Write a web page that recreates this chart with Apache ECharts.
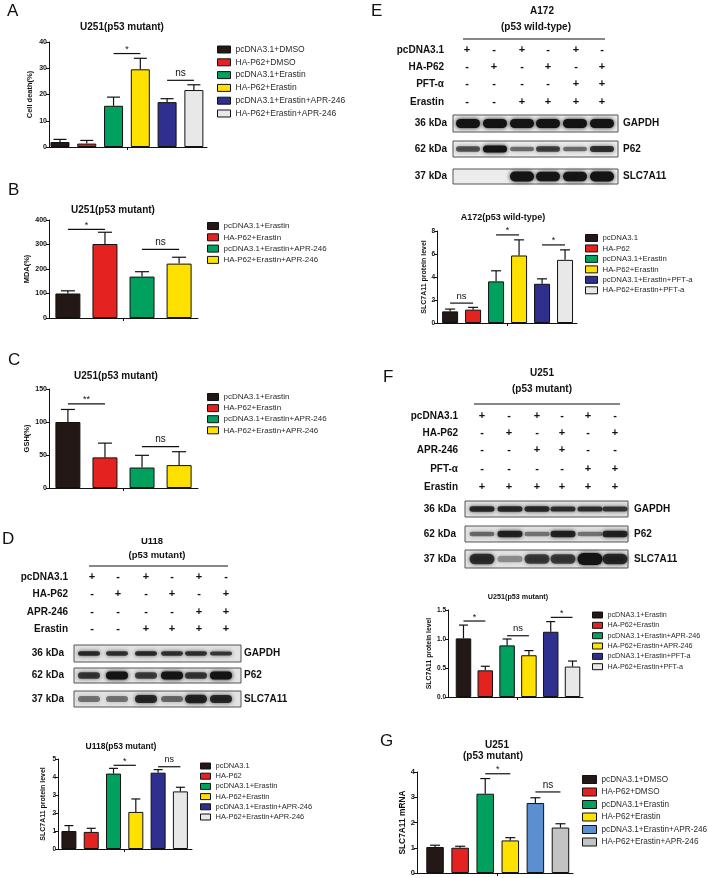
<!DOCTYPE html>
<html><head><meta charset="utf-8">
<script src="https://cdn.jsdelivr.net/npm/echarts@6/dist/echarts.min.js"></script>
<style>html,body{margin:0;padding:0;background:#fff}#c{width:708px;height:878px}</style>
</head><body><div id="c"></div>
<script>
// ---------------- DATA ----------------
const namesA = ['pcDNA3.1+DMSO','HA-P62+DMSO','pcDNA3.1+Erastin','HA-P62+Erastin','pcDNA3.1+Erastin+APR-246','HA-P62+Erastin+APR-246'];
const valuesA = [1.9, 1.3, 15.7, 29.6, 17.1, 21.7];
const errTopA = [2.9, 2.5, 19.0, 33.8, 18.4, 23.7];
const sigA = [[2, 3, 35.6, '*'], [4, 5, 25.4, 'ns']];
const ticksA = [0, 10, 20, 30, 40];

const namesB = ['pcDNA3.1+Erastin','HA-P62+Erastin','pcDNA3.1+Erastin+APR-246','HA-P62+Erastin+APR-246'];
const valuesB = [100, 302, 169, 222];
const errTopB = [111, 350, 189, 248];
const sigB = [[0, 1, 362, '*'], [2, 3, 280, 'ns']];
const ticksB = [0, 100, 200, 300, 400];

const namesC = ['pcDNA3.1+Erastin','HA-P62+Erastin','pcDNA3.1+Erastin+APR-246','HA-P62+Erastin+APR-246'];
const valuesC = [100, 46.4, 31, 34.7];
const errTopC = [119, 68, 49.5, 55];
const sigC = [[0, 1, 127.5, '**'], [2, 3, 62.8, 'ns']];
const ticksC = [0, 50, 100, 150];

const namesD = ['pcDNA3.1','HA-P62','pcDNA3.1+Erastin','HA-P62+Erastin','pcDNA3.1+Erastin+APR-246','HA-P62+Erastin+APR-246'];
const valuesD = [1.0, 0.95, 4.19, 2.06, 4.24, 3.2];
const errTopD = [1.3, 1.15, 4.48, 2.78, 4.41, 3.43];
const sigD = [[2, 3, 4.65, '*'], [4, 5, 4.57, 'ns']];
const ticksD = [0, 1, 2, 3, 4, 5];

const namesE = ['pcDNA3.1','HA-P62','pcDNA3.1+Erastin','HA-P62+Erastin','pcDNA3.1+Erastin+PFT-a','HA-P62+Erastin+PFT-a'];
const valuesE = [1.01, 1.16, 3.62, 5.87, 3.41, 5.49];
const errTopE = [1.21, 1.36, 4.54, 7.23, 3.84, 6.36];
const sigE = [[0, 1, 1.73, 'ns'], [2, 3, 7.66, '*'], [4, 5, 6.79, '*']];
const ticksE = [0, 2, 4, 6, 8];

const namesF = ['pcDNA3.1+Erastin','HA-P62+Erastin','pcDNA3.1+Erastin+APR-246','HA-P62+Erastin+APR-246','pcDNA3.1+Erastin+PFT-a','HA-P62+Erastin+PFT-a'];
const valuesF = [1.01, 0.46, 0.89, 0.72, 1.125, 0.525];
const errTopF = [1.24, 0.53, 1.0, 0.80, 1.30, 0.62];
const sigF = [[0, 1, 1.31, '*'], [2, 3, 1.056, 'ns'], [4, 5, 1.373, '*']];
const ticksF = [0, 0.5, 1.0, 1.5];

const namesG = ['pcDNA3.1+DMSO','HA-P62+DMSO','pcDNA3.1+Erastin','HA-P62+Erastin','pcDNA3.1+Erastin+APR-246','HA-P62+Erastin+APR-246'];
const valuesG = [1.03, 1.0, 3.14, 1.29, 2.77, 1.80];
const errTopG = [1.10, 1.06, 3.74, 1.40, 2.98, 1.95];
const sigG = [[2, 3, 3.93, '*'], [4, 5, 3.21, 'ns']];
const ticksG = [0, 1, 2, 3, 4];

// western blot treatment tables
const treatLabelsD = ['pcDNA3.1','HA-P62','APR-246','Erastin'];
const treatSignsD = [['+','-','+','-','+','-'],['-','+','-','+','-','+'],['-','-','-','-','+','+'],['-','-','+','+','+','+']];
const treatLabelsE = ['pcDNA3.1','HA-P62','PFT-α','Erastin'];
const treatSignsE = [['+','-','+','-','+','-'],['-','+','-','+','-','+'],['-','-','-','-','+','+'],['-','-','+','+','+','+']];
const treatLabelsF = ['pcDNA3.1','HA-P62','APR-246','PFT-α','Erastin'];
const treatSignsF = [['+','-','+','-','+','-'],['-','+','-','+','-','+'],['-','-','+','+','-','-'],['-','-','-','-','+','+'],['+','+','+','+','+','+']];
const blotMarkers = ['GAPDH','P62','SLC7A11'];
const blotKda = ['36 kDa','62 kDa','37 kDa'];
// relative band intensities per lane (GAPDH, P62, SLC7A11)
const bandsD = [[0.8,0.75,0.8,0.75,0.75,0.7],[0.7,1,0.65,1,0.7,1],[0.35,0.35,0.8,0.4,0.85,0.8]];
const bandsE = [[1,1,1,1,1,1],[0.55,1,0.4,0.65,0.4,0.75],[0,0,1,0.95,0.95,1]];
const bandsF = [[0.8,0.8,0.8,0.75,0.75,0.7],[0.4,0.85,0.35,0.85,0.35,0.85],[0.75,0.2,0.65,0.65,1,0.8]];

// ---------------- STYLE ----------------
const FONT = '"Liberation Sans", Arial, Helvetica, sans-serif';
const C = {blk:'#231815', red:'#e42320', grn:'#00a05e', yel:'#ffe100', nav:'#2e2f8f', lgt:'#e8e8e8', blu:'#5b8fd0', gry:'#c3c3c3'};
const colors6 = [C.blk, C.red, C.grn, C.yel, C.nav, C.lgt];
const colors4 = [C.blk, C.red, C.grn, C.yel];
const colorsG = [C.blk, C.red, C.grn, C.yel, C.blu, C.gry];

const panels = [
 {key:'A', names:namesA, values:valuesA, err:errTopA, sig:sigA, ticks:ticksA, colors:colors6, yName:'Cell death(%)',
  grid:{left:49, top:42, width:158, height:105}, xr:[-0.41, 5.49], mid:2.5, barW:19, capW:13, nameGap:15, nameSize:7.5, tickSize:7, sigSize:10,
  lg:{left:217, top:45, iw:13, ih:7, gap:3.8, fs:8.5}},
 {key:'B', names:namesB, values:valuesB, err:errTopB, sig:sigB, ticks:ticksB, colors:colors4, yName:'MDA(%)',
  grid:{left:49, top:220, width:149, height:98}, xr:[-0.51, 3.51], mid:1.5, barW:25, capW:14, nameGap:17, nameSize:7.5, tickSize:7, sigSize:10,
  lg:{left:207, top:222, iw:11, ih:7, gap:3.3, fs:8}},
 {key:'C', names:namesC, values:valuesC, err:errTopC, sig:sigC, ticks:ticksC, colors:colors4, yName:'GSH(%)',
  grid:{left:49, top:389, width:149, height:99}, xr:[-0.51, 3.51], mid:1.5, barW:25, capW:14, nameGap:17, nameSize:7.5, tickSize:7, sigSize:10,
  lg:{left:207, top:393, iw:11, ih:7, gap:3.1, fs:8}},
 {key:'D', names:namesD, values:valuesD, err:errTopD, sig:sigD, ticks:ticksD, colors:colors6, yName:'SLC7A11 protein level',
  grid:{left:58, top:759, width:134, height:90}, xr:[-0.49, 5.52], mid:2.5, barW:15, capW:9, nameGap:11.5, nameSize:7, tickSize:6.5, sigSize:9,
  lg:{left:200, top:762, iw:10, ih:6, gap:2.2, fs:7.5}},
 {key:'E', names:namesE, values:valuesE, err:errTopE, sig:sigE, ticks:ticksE, colors:colors6, yName:'SLC7A11 protein level',
  grid:{left:437, top:231, width:140, height:92}, xr:[-0.57, 5.52], mid:2.5, barW:16, capW:10, nameGap:8.5, nameSize:7, tickSize:6.5, sigSize:9.5,
  lg:{left:585, top:234, iw:12, ih:7, gap:2.46, fs:7.8}},
 {key:'F', names:namesF, values:valuesF, err:errTopF, sig:sigF, ticks:ticksF, colors:colors6, yName:'SLC7A11 protein level',
  grid:{left:448, top:610, width:135, height:87}, xr:[-0.71, 5.48], mid:2.45, barW:15.5, capW:9, nameGap:9.6, nameSize:6.8, tickSize:6.5, sigSize:9.5,
  lg:{left:592, top:611, iw:10, ih:6, gap:2.34, fs:7.2}, dec:1},
 {key:'G', names:namesG, values:valuesG, err:errTopG, sig:sigG, ticks:ticksG, colors:colorsG, yName:'SLC7A11 mRNA',
  grid:{left:417, top:772, width:156, height:101}, xr:[-0.72, 5.5], mid:2.46, barW:17.5, capW:10, nameGap:7.8, nameSize:8.4, tickSize:7.5, sigSize:10,
  lg:{left:582, top:775, iw:14, ih:8, gap:3.5, fs:8.2}}
];

const grids = [], xAxes = [], yAxes = [], series = [], legends = [];
panels.forEach((p, k) => {
  grids.push(Object.assign({outerBoundsMode:'none', containLabel:false}, p.grid));
  const t = p.ticks;
  xAxes.push({gridIndex:k, type:'value', min:p.xr[0], max:p.xr[1],
    axisLine:{show:true, onZero:false, lineStyle:{color:'#111', width:1}},
    axisTick:{show:true, length:3, customValues:[p.mid], lineStyle:{color:'#111'}},
    axisLabel:{show:false}, splitLine:{show:false}});
  yAxes.push({gridIndex:k, type:'value', min:t[0], max:t[t.length-1], interval:t[1]-t[0],
    name:p.yName, nameLocation:'middle', nameRotate:90, nameGap:p.nameGap,
    nameTextStyle:{fontSize:p.nameSize, fontWeight:'bold', color:'#111', fontFamily:FONT},
    axisLine:{show:true, onZero:false, lineStyle:{color:'#111', width:1}},
    axisTick:{show:true, length:3, lineStyle:{color:'#111'}},
    axisLabel:{fontSize:p.tickSize, fontWeight:'bold', color:'#111', fontFamily:FONT, margin:2,
      formatter: v => p.dec ? Number(v).toFixed(p.dec) : String(v)},
    splitLine:{show:false}});
  p.names.forEach((n, i) => {
    series.push({type:'bar', name:p.key + '|' + n, xAxisIndex:k, yAxisIndex:k, silent:true,
      data:[[i, p.values[i]]], barWidth:p.barW, barGap:'-100%',
      itemStyle:{color:p.colors[i], borderColor:'#111', borderWidth:1}});
  });
  series.push({type:'custom', xAxisIndex:k, yAxisIndex:k, silent:true, z:5,
    data:p.values.map((v, i) => [i, v, p.err[i]]), encode:{x:0, y:[1, 2]},
    renderItem:(params, api) => {
      const x = api.value(0);
      const a = api.coord([x, api.value(1)]), b = api.coord([x, api.value(2)]);
      return {type:'group', children:[
        {type:'line', shape:{x1:a[0], y1:a[1], x2:b[0], y2:b[1]}, style:{stroke:'#111', lineWidth:1.2}},
        {type:'line', shape:{x1:b[0]-p.capW/2, y1:b[1], x2:b[0]+p.capW/2, y2:b[1]}, style:{stroke:'#111', lineWidth:1.2}}
      ]};
    }});
  series.push({type:'custom', xAxisIndex:k, yAxisIndex:k, silent:true, z:5,
    data:p.sig.map(s => [s[0], s[1], s[2]]), encode:{x:[0, 1], y:2},
    renderItem:(params, api) => {
      const s = p.sig[params.dataIndex];
      const a = api.coord([s[0], s[2]]), b = api.coord([s[1], s[2]]);
      const star = s[3].indexOf('*') >= 0;
      return {type:'group', children:[
        {type:'line', shape:{x1:a[0], y1:a[1], x2:b[0], y2:b[1]}, style:{stroke:'#111', lineWidth:1.2}},
        {type:'text', x:(a[0]+b[0])/2, y:a[1] - (star ? 4 : 7),
         style:{text:s[3], fontSize:star ? 9 : p.sigSize, fontFamily:FONT, fill:'#111', align:'center', verticalAlign:'middle'}}
      ]};
    }});
  legends.push({orient:'vertical', left:p.lg.left, top:p.lg.top, padding:0, itemWidth:p.lg.iw, itemHeight:p.lg.ih,
    itemGap:p.lg.gap, icon:'rect', selectedMode:false, data:p.names.map(n => p.key + '|' + n),
    formatter: name => name.split('|')[1],
    textStyle:{fontSize:p.lg.fs, color:'#2a2a2a', fontFamily:FONT, lineHeight:8},
    itemStyle:{borderColor:'#111', borderWidth:1}});
});

// ---------------- GRAPHIC (labels, blots) ----------------
const GR = [];
function T(x, y, text, size, bold, align, color) {
  GR.push({type:'text', x, y, silent:true, z:10, style:{text, fontSize:size, fontWeight:bold ? 'bold' : 'normal',
    fontFamily:FONT, fill:color || '#111', align:align || 'left', verticalAlign:'middle'}});
}
function L(x1, y1, x2, y2, w) {
  GR.push({type:'line', silent:true, z:10, shape:{x1, y1, x2, y2}, style:{stroke:'#111', lineWidth:w || 1}});
}
// panel letters
[['A',7,11],['B',8,190],['C',8,360],['D',2,539],['E',371,11],['F',383,377],['G',380,741]].forEach(a => T(a[1], a[2], a[0], 17, false, 'left'));
// chart titles
T(122, 27, 'U251(p53 mutant)', 10, true, 'center');
T(113, 210, 'U251(p53 mutant)', 10, true, 'center');
T(116, 376, 'U251(p53 mutant)', 10, true, 'center');
T(121, 747, 'U118(p53 mutant)', 8.5, true, 'center');
T(503, 218, 'A172(p53 wild-type)', 9, true, 'center');
T(518, 597, 'U251(p53 mutant)', 7.2, true, 'center');
T(497, 745, 'U251', 10, true, 'center');
T(493, 756, '(p53 mutant)', 10, true, 'center');

function treat(labels, signs, rightX, rows, cols, size) {
  labels.forEach((lab, r) => {
    T(rightX, rows[r], lab, size, true, 'right');
    signs[r].forEach((s, c) => T(cols[c], rows[r], s, 11, true, 'center'));
  });
}
function blot(x, w, tops, hs, lanes, bandW, maxH, inten, kdaRight, rightX, bg) {
  tops.forEach((top, r) => {
    GR.push({type:'rect', silent:true, z:8, shape:{x, y:top, width:w, height:hs[r]},
      style:{fill:bg, stroke:'#555', lineWidth:1}});
    const cy = top + hs[r] / 2;
    lanes.forEach((lx, i) => {
      const a = inten[r][i];
      if (a <= 0.02) return;
      const bh = maxH[r] * (0.45 + 0.55 * a);
      const col = 'rgba(20,20,20,' + (0.2 + 0.8 * a).toFixed(2) + ')';
      GR.push({type:'rect', silent:true, z:9, shape:{x:lx - bandW/2, y:cy - bh/2, width:bandW, height:bh, r:bh/2},
        style:{fill:col, shadowBlur:4, shadowColor:col}});
    });
    T(kdaRight, cy, blotKda[r], 10, true, 'right');
    T(rightX, cy, blotMarkers[r], 10, true, 'left');
  });
}
// D blot
T(152, 541, 'U118', 9.5, true, 'center');
T(157, 555, '(p53 mutant)', 9.5, true, 'center');
L(89, 566, 228, 566, 1.2);
treat(treatLabelsD, treatSignsD, 68, [577, 594, 612, 629], [92, 118, 146, 172, 199, 226], 10);
blot(74, 167, [645, 668, 691], [17, 15, 16], [89, 117, 146, 172, 196, 221], 22, [5, 8, 9], bandsD, 64, 244, '#e3e3e3');
// E blot
T(542, 11, 'A172', 10, true, 'center');
T(536, 27, '(p53 wild-type)', 10, true, 'center');
L(463, 39, 605, 39, 1.2);
treat(treatLabelsE, treatSignsE, 444, [50, 67, 84, 102], [467, 494, 522, 548, 576, 602], 10);
blot(453, 165, [115, 141, 169], [17, 16, 15], [468, 495, 522, 548, 575, 602], 24, [9, 7, 10], bandsE, 447, 623, '#ececec');
// F blot
T(542, 373, 'U251', 10, true, 'center');
T(542, 389, '(p53 mutant)', 10, true, 'center');
L(474, 404, 620, 404, 1.2);
treat(treatLabelsF, treatSignsF, 458, [416, 433, 450, 469, 487], [482, 509, 537, 562, 588, 615], 10);
blot(465, 163, [501, 526, 550], [16, 16, 18], [482, 510, 537, 563, 590, 615], 25, [6, 7, 12], bandsF, 456, 634, '#e3e3e3');

const chart = echarts.init(document.getElementById('c'), null, {renderer:'canvas'});
chart.setOption({
  animation:false, backgroundColor:'#ffffff',
  grid:grids, xAxis:xAxes, yAxis:yAxes, series:series, legend:legends, graphic:GR
});
</script></body></html>
